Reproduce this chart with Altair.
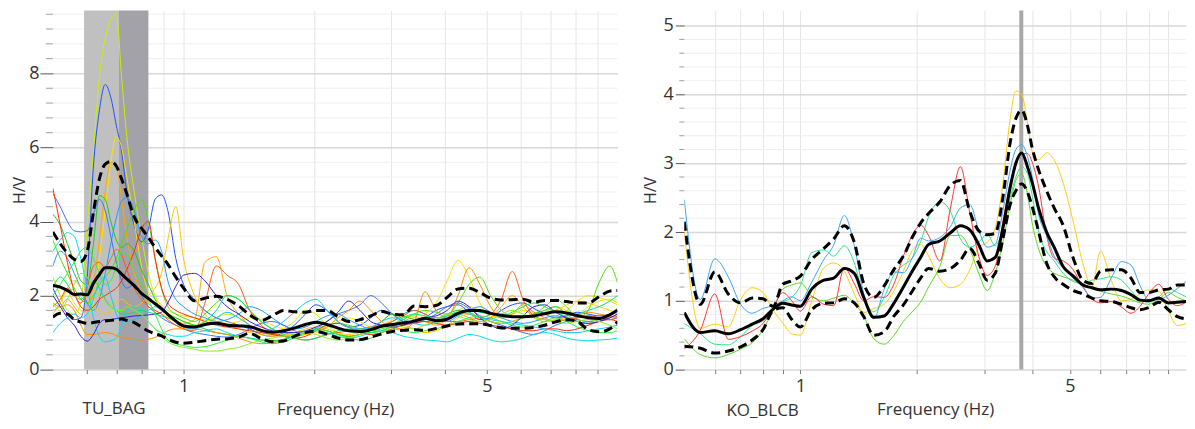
import altair as alt
import pandas as pd

# ---------------- LEFT PANEL (TU_BAG) ----------------
FREQ_L = [0.50, 0.52, 0.54, 0.56, 0.58, 0.60, 0.62, 0.64, 0.66, 0.68, 0.70, 0.72, 0.74, 0.77, 0.80, 0.83, 0.86, 0.89, 0.92, 0.96, 1.00,
          1.06, 1.12, 1.19, 1.26, 1.34, 1.42, 1.51, 1.60, 1.70, 1.80, 1.91, 2.02, 2.14, 2.27, 2.40, 2.55, 2.70, 2.86, 3.03, 3.21,
          3.40, 3.60, 3.82, 4.05, 4.29, 4.55, 4.82, 5.10, 5.40, 5.72, 6.06, 6.42, 6.80, 7.20, 7.63, 8.08, 8.56, 9.07, 9.60, 10.0]

L_MEAN = [2.27, 2.23, 2.14, 2.03, 2.04, 2.02, 2.33, 2.57, 2.75, 2.75, 2.71, 2.58, 2.45, 2.27, 2.06, 1.92, 1.78, 1.65, 1.49, 1.31, 1.18,
          1.15, 1.22, 1.25, 1.20, 1.18, 1.16, 1.06, 1.01, 1.05, 1.12, 1.22, 1.28, 1.22, 1.12, 1.05, 1.03, 1.08, 1.17, 1.22, 1.26,
          1.31, 1.39, 1.32, 1.36, 1.52, 1.60, 1.60, 1.52, 1.47, 1.43, 1.43, 1.45, 1.51, 1.56, 1.53, 1.46, 1.40, 1.38, 1.48, 1.60]
L_UP = [3.72, 3.40, 3.15, 2.98, 2.92, 3.20, 4.25, 5.15, 5.55, 5.62, 5.50, 5.15, 4.75, 4.12, 3.82, 3.57, 3.30, 3.07, 2.85, 2.50, 2.20,
        1.86, 1.93, 1.98, 1.90, 1.72, 1.48, 1.33, 1.45, 1.60, 1.56, 1.55, 1.60, 1.60, 1.43, 1.30, 1.35, 1.45, 1.57, 1.50, 1.48,
        1.72, 1.70, 1.73, 1.95, 2.18, 2.20, 2.08, 1.93, 1.88, 1.89, 1.90, 1.82, 1.87, 1.87, 1.84, 1.80, 1.80, 1.97, 2.12, 2.14]
L_LO = [1.42, 1.52, 1.50, 1.35, 1.29, 1.25, 1.27, 1.30, 1.31, 1.33, 1.35, 1.37, 1.33, 1.27, 1.15, 1.04, 0.97, 0.91, 0.82, 0.74, 0.71,
        0.74, 0.78, 0.82, 0.83, 0.88, 0.98, 0.84, 0.75, 0.77, 0.90, 1.00, 1.03, 0.96, 0.85, 0.80, 0.81, 0.88, 0.96, 1.03, 1.06,
        1.08, 1.06, 1.11, 1.18, 1.23, 1.24, 1.24, 1.19, 1.13, 1.12, 1.12, 1.14, 1.20, 1.29, 1.35, 1.30, 1.08, 1.02, 1.10, 1.29]

L_A = [2.5, 2.0, 1.6, 1.5, 1.8, 3.9, 5.9, 7.9, 8.95, 9.45, 9.6, 7.9, 6.3, 4.8, 3.6, 2.6, 2.0, 1.7, 1.5, 1.4, 1.3,
       1.2, 1.3, 1.4, 1.5, 1.4, 1.2, 1.0, 0.95, 1.1, 1.3, 1.6, 1.5, 1.2, 1.0, 0.9, 0.95, 1.1, 1.3, 1.5, 1.4,
       1.45, 1.3, 1.25, 1.4, 1.6, 1.7, 1.6, 1.5, 1.4, 1.5, 1.6, 1.5, 1.55, 1.7, 1.6, 1.5, 1.7, 1.85, 1.9, 1.8]
L_B = [2.2, 1.8, 1.5, 1.35, 1.4, 2.5, 5.5, 7.0, 7.7, 7.35, 6.6, 5.9, 4.8, 3.9, 3.45, 3.8, 4.6, 4.72, 4.3, 3.0, 2.3,
       1.9, 1.6, 1.4, 1.3, 1.2, 1.1, 0.95, 0.9, 1.0, 1.2, 1.5, 1.75, 1.6, 1.3, 1.15, 1.2, 1.4, 1.6, 1.5, 1.3,
       1.25, 1.4, 1.6, 1.7, 1.75, 1.55, 1.35, 1.4, 1.6, 1.75, 1.8, 1.65, 1.5, 1.4, 1.45, 1.55, 1.5, 1.45, 1.5, 1.6]
L_C = [1.7, 1.9, 2.1, 1.8, 1.6, 1.5, 1.8, 3.0, 4.3, 5.6, 6.3, 6.0, 5.2, 4.0, 2.8, 2.1, 1.9, 1.75, 1.6, 1.5, 1.45,
       1.4, 1.35, 1.3, 1.25, 1.3, 1.4, 1.35, 1.2, 1.1, 1.0, 0.95, 1.0, 1.15, 1.3, 1.4, 1.3, 1.15, 1.2, 1.35, 1.5,
       1.3, 1.5, 1.8, 2.4, 2.95, 2.5, 1.8, 1.45, 1.4, 1.5, 1.6, 1.55, 1.5, 1.45, 1.6, 1.85, 2.0, 1.95, 1.85, 1.75]
L_D = [1.6, 1.7, 1.9, 1.7, 1.5, 1.7, 2.3, 3.5, 4.8, 5.6, 5.5, 4.6, 3.6, 2.6, 2.1, 1.8, 1.6, 1.5, 1.4, 1.3, 1.25,
       1.35, 2.9, 3.05, 2.0, 1.5, 1.2, 1.05, 1.0, 0.95, 0.9, 0.95, 1.1, 1.05, 0.95, 0.9, 0.95, 1.0, 1.05, 1.15, 1.3,
       1.4, 1.3, 1.2, 1.35, 1.5, 1.4, 1.3, 1.4, 1.7, 2.0, 1.7, 1.4, 1.3, 1.35, 1.4, 1.35, 1.3, 1.35, 1.4, 1.45]
L_E = [4.2, 3.9, 3.4, 2.9, 2.4, 2.3, 3.4, 4.7, 4.6, 4.0, 3.5, 3.3, 3.4, 3.2, 2.7, 2.3, 1.9, 1.6, 1.5, 1.4, 1.3,
       1.2, 1.1, 1.0, 0.95, 0.9, 0.85, 0.8, 0.78, 0.82, 0.9, 1.0, 1.1, 1.05, 0.95, 0.9, 0.95, 1.1, 1.3, 1.5, 1.45,
       1.35, 1.3, 1.35, 1.5, 1.6, 1.55, 1.4, 1.3, 1.25, 1.3, 1.4, 1.5, 1.6, 1.7, 1.5, 1.3, 1.25, 1.3, 1.4, 1.5]
L_F = [3.5, 3.0, 2.6, 2.2, 1.9, 1.8, 2.0, 2.3, 2.5, 2.7, 3.0, 3.4, 3.8, 4.3, 4.6, 4.0, 3.0, 2.2, 1.7, 1.5, 1.4,
       1.3, 1.5, 1.8, 2.0, 1.9, 1.6, 1.3, 1.1, 1.0, 0.95, 1.0, 1.1, 1.2, 1.25, 1.2, 1.1, 1.05, 1.1, 1.2, 1.35,
       1.5, 1.6, 1.55, 1.5, 1.8, 2.3, 2.5, 2.0, 1.6, 1.45, 1.4, 1.5, 1.7, 1.9, 1.7, 1.4, 1.6, 2.35, 2.8, 2.35]
L_G = [2.8, 3.2, 3.0, 2.6, 2.2, 1.8, 1.6, 1.9, 2.6, 3.4, 4.1, 4.55, 4.65, 4.3, 3.6, 3.4, 3.5, 3.2, 2.4, 1.9, 1.7,
       1.5, 1.4, 1.3, 1.35, 1.5, 1.7, 1.6, 1.4, 1.2, 1.1, 1.15, 1.3, 1.45, 1.5, 1.35, 1.2, 1.1, 1.15, 1.3, 1.5,
       1.6, 1.5, 1.35, 1.3, 1.45, 1.6, 1.7, 1.55, 1.4, 1.3, 1.25, 1.3, 1.4, 1.45, 1.4, 1.35, 1.3, 1.35, 1.5, 1.65]
L_H = [4.75, 4.4, 4.0, 3.75, 3.72, 3.75, 4.2, 4.6, 4.3, 3.6, 2.9, 2.4, 2.2, 2.3, 2.0, 1.7, 1.55, 1.4, 1.3, 1.2, 1.1,
       1.0, 0.95, 0.9, 0.88, 0.95, 1.1, 1.25, 1.3, 1.2, 1.05, 1.0, 1.1, 1.3, 1.5, 1.6, 1.75, 2.0, 1.8, 1.5, 1.3,
       1.25, 1.35, 1.5, 1.7, 1.8, 1.65, 1.45, 1.3, 1.2, 1.1, 1.0, 0.95, 1.05, 1.2, 1.3, 1.4, 1.45, 1.4, 1.35, 1.4]
L_I = [1.5, 1.8, 2.2, 2.4, 2.2, 1.9, 1.7, 1.6, 1.5, 1.6, 1.8, 1.9, 1.8, 1.7, 1.8, 2.0, 2.2, 2.6, 3.5, 4.4, 3.0,
       2.0, 1.5, 1.3, 1.2, 1.1, 1.0, 0.95, 0.9, 0.92, 1.0, 1.1, 1.15, 1.1, 1.0, 0.95, 1.0, 1.1, 1.2, 1.25, 1.2,
       1.1, 1.0, 1.05, 1.2, 1.4, 1.5, 1.4, 1.3, 1.25, 1.3, 1.4, 1.45, 1.5, 1.6, 1.75, 1.85, 1.8, 1.7, 1.6, 1.5]
L_J = [4.9, 3.9, 2.9, 2.1, 1.7, 1.6, 1.7, 1.9, 2.0, 2.1, 2.2, 2.4, 2.7, 3.2, 3.8, 4.0, 3.0, 2.2, 1.8, 1.6, 1.5,
       1.4, 1.3, 1.2, 1.15, 1.1, 1.05, 1.0, 0.95, 0.9, 0.85, 0.9, 1.05, 1.2, 1.25, 1.15, 1.0, 0.95, 1.0, 1.1, 1.2,
       1.25, 1.3, 1.25, 1.2, 1.25, 1.3, 1.25, 1.2, 1.15, 1.1, 1.05, 1.05, 1.1, 1.1, 1.05, 1.1, 1.2, 1.3, 1.35, 1.3]
L_K = [1.7, 1.9, 2.2, 2.0, 1.8, 2.2, 2.8, 2.9, 2.75, 3.0, 3.25, 3.1, 2.7, 2.2, 1.9, 1.7, 1.6, 1.5, 1.35, 1.2, 1.1,
       1.05, 1.8, 2.8, 2.55, 2.3, 1.6, 1.2, 1.0, 0.9, 0.85, 0.8, 0.85, 0.95, 1.0, 1.05, 1.1, 1.15, 1.2, 1.3, 1.45,
       1.6, 1.5, 1.35, 1.3, 1.3, 1.35, 1.4, 1.5, 1.9, 2.65, 1.9, 1.45, 1.35, 1.3, 1.35, 1.4, 1.45, 1.4, 1.35, 1.45]
L_L = [1.8, 1.7, 1.75, 1.6, 1.2, 0.95, 0.95, 0.98, 1.0, 0.98, 0.92, 0.87, 0.84, 0.82, 0.8, 0.82, 0.87, 0.95, 1.05, 1.1, 1.1,
       1.1, 1.05, 1.0, 0.95, 0.85, 0.75, 0.7, 0.72, 0.8, 0.9, 1.0, 1.05, 1.15, 1.4, 1.6, 1.85, 1.6, 1.3, 1.15, 1.1,
       1.3, 2.1, 1.6, 1.4, 2.0, 2.75, 2.3, 1.7, 1.4, 1.5, 1.75, 1.55, 1.4, 1.3, 1.35, 1.45, 1.55, 1.5, 1.45, 1.4]
L_M = [3.2, 3.5, 3.7, 3.6, 3.0, 2.2, 1.4, 0.9, 0.75, 0.78, 0.85, 1.2, 1.6, 1.7, 1.5, 1.3, 1.1, 1.0, 0.95, 0.9, 0.9,
       1.0, 1.05, 1.1, 1.0, 0.9, 0.85, 0.8, 0.75, 0.8, 0.9, 1.0, 1.05, 1.0, 0.9, 0.85, 0.9, 1.0, 1.05, 1.0, 0.9,
       0.85, 0.8, 0.78, 0.75, 0.85, 0.95, 0.9, 0.8, 0.75, 0.78, 0.85, 0.95, 1.0, 0.95, 0.85, 0.8, 0.78, 0.8, 0.82, 0.85]
L_N = [2.0, 1.7, 1.4, 1.2, 0.9, 0.77, 0.95, 1.25, 1.35, 1.35, 1.38, 1.4, 1.42, 1.45, 1.46, 1.48, 1.5, 1.55, 1.8, 2.25, 2.55,
       2.6, 2.4, 2.0, 1.7, 1.5, 1.3, 1.15, 1.05, 1.0, 1.0, 1.05, 1.15, 1.3, 1.55, 1.85, 1.6, 1.3, 1.2, 1.15, 1.2,
       1.3, 1.4, 1.45, 1.6, 1.85, 1.7, 1.4, 1.2, 1.1, 1.2, 1.45, 1.7, 1.75, 1.55, 1.4, 1.3, 1.25, 1.3, 1.4, 1.5]
L_O = [2.2, 2.5, 2.3, 2.0, 1.9, 2.1, 2.4, 2.2, 1.9, 1.7, 1.6, 1.5, 1.5, 1.55, 1.6, 1.55, 1.5, 1.45, 1.4, 1.3, 1.2,
       1.15, 1.3, 1.6, 2.0, 1.9, 1.6, 1.3, 1.1, 0.95, 0.85, 0.8, 0.85, 0.95, 1.05, 1.1, 1.05, 1.0, 1.05, 1.2, 1.4,
       1.5, 1.45, 1.4, 1.45, 1.55, 1.6, 1.55, 1.5, 1.45, 1.55, 1.7, 1.8, 1.7, 1.55, 1.45, 1.5, 1.6, 1.7, 1.85, 2.0]
L_P = [1.0, 1.25, 1.4, 1.5, 1.4, 1.5, 1.9, 2.4, 2.5, 2.0, 1.5, 1.3, 1.3, 1.35, 1.45, 1.6, 1.7, 1.6, 1.5, 1.3, 1.15,
       1.1, 1.2, 1.4, 1.55, 1.4, 1.2, 1.05, 1.1, 1.3, 1.55, 1.8, 1.9, 1.6, 1.3, 1.15, 1.1, 1.15, 1.3, 1.4, 1.35,
       1.25, 1.2, 1.3, 1.45, 1.55, 1.5, 1.4, 1.35, 1.3, 1.25, 1.2, 1.15, 1.1, 1.05, 1.0, 1.0, 1.05, 1.1, 1.15, 1.2]
L_Q = [1.8, 1.6, 1.9, 2.3, 2.6, 2.5, 2.2, 2.0, 1.8, 1.7, 1.6, 1.6, 1.7, 1.6, 1.5, 1.3, 1.1, 0.9, 0.75, 0.65, 0.6,
       0.55, 0.5, 0.5, 0.55, 0.6, 0.7, 0.8, 0.85, 0.9, 0.95, 1.0, 0.95, 0.85, 0.8, 0.85, 0.95, 1.05, 1.15, 1.2, 1.15,
       1.1, 1.2, 1.35, 1.5, 1.45, 1.35, 1.3, 1.35, 1.5, 1.6, 1.5, 1.4, 1.35, 1.3, 1.25, 1.3, 1.35, 1.3, 1.2, 1.1]
L_R = [2.0, 2.3, 2.6, 2.9, 3.2, 3.3, 3.0, 2.6, 2.3, 2.4, 2.8, 3.2, 3.1, 2.7, 2.3, 1.9, 1.5, 1.1, 0.8, 0.7, 0.65,
       0.6, 0.62, 0.7, 0.8, 0.9, 0.85, 0.75, 0.7, 0.75, 0.85, 1.0, 1.1, 1.05, 0.95, 0.85, 0.8, 0.85, 1.0, 1.1, 1.05,
       1.0, 1.05, 1.1, 1.2, 1.3, 1.4, 1.45, 1.4, 1.3, 1.2, 1.15, 1.2, 1.3, 1.4, 1.3, 1.15, 1.05, 1.0, 1.0, 1.05]

L_NAMES = ["A", "B", "C", "D", "E", "F", "G", "H", "I", "J", "K", "L", "M", "N", "O", "P", "Q", "R"]
L_COLORS = ["#c8f000", "#1f4fff", "#ffe000", "#ffa800", "#1ec81e", "#4ee000", "#1e9bff", "#3a70ff", "#ffc400",
            "#ff2a00", "#ff5a14", "#ff8c00", "#00e0e8", "#3a1fd8", "#00e86a", "#14c8ff", "#8cee22", "#33ee44"]
L_CURVES = [L_A, L_B, L_C, L_D, L_E, L_F, L_G, L_H, L_I, L_J, L_K, L_L, L_M, L_N, L_O, L_P, L_Q, L_R]

L_BAND = [0.59, 0.71, 0.83]          # light band 0.59-0.71, dark band 0.71-0.83
L_YMAJOR = [0, 2, 4, 6, 8]
L_YMINOR = [0.4, 0.8, 1.2, 1.6, 2.4, 2.8, 3.2, 3.6, 4.4, 4.8, 5.2, 5.6, 6.4, 6.8, 7.2, 7.6, 8.4, 8.8, 9.2, 9.6]

# ---------------- RIGHT PANEL (KO_BLCB) ----------------
FREQ_R = [0.50, 0.55, 0.60, 0.65, 0.70, 0.75, 0.80, 0.85, 0.90, 0.95,
          1.00, 1.07, 1.15, 1.22, 1.30, 1.38, 1.46, 1.55, 1.65, 1.75,
          1.85, 1.95, 2.05, 2.15, 2.30, 2.45, 2.60, 2.75, 2.90, 3.05,
          3.20, 3.35, 3.50, 3.62, 3.75, 3.88, 4.00, 4.15, 4.35, 4.55,
          4.80, 5.10, 5.40, 5.70, 6.00, 6.40, 6.80, 7.20, 7.60, 8.00,
          8.50, 9.00, 9.50, 10.0]
R_MEAN = [0.83, 0.54, 0.565, 0.52, 0.58, 0.66, 0.74, 0.88, 0.965, 0.94,
          0.92, 1.17, 1.30, 1.33, 1.47, 1.40, 1.05, 0.76, 0.78, 0.97,
          1.20, 1.43, 1.63, 1.82, 1.87, 1.99, 2.09, 2.03, 1.82, 1.58,
          1.63, 2.05, 2.65, 3.0, 3.15, 2.95, 2.7, 2.34, 2.0, 1.78,
          1.5, 1.36, 1.23, 1.19, 1.16, 1.17, 1.15, 1.09, 1.01, 1.0,
          1.04, 0.97, 0.98, 0.99]
R_UP = [2.15, 0.95, 1.42, 1.10, 0.97, 1.04, 1.03, 0.92, 1.24, 1.29,
        1.36, 1.60, 1.76, 1.90, 2.09, 1.85, 1.25, 1.05, 1.22, 1.46,
        1.65, 1.92, 2.13, 2.27, 2.44, 2.68, 2.75, 2.30, 2.02, 1.96,
        1.98, 2.5, 3.30, 3.65, 3.77, 3.55, 3.2, 2.9, 2.6, 2.35,
        2.1, 1.62, 1.30, 1.25, 1.43, 1.45, 1.45, 1.33, 1.12, 1.12,
        1.16, 1.17, 1.23, 1.23]
R_LO = [0.34, 0.31, 0.24, 0.27, 0.33, 0.43, 0.58, 0.86, 0.90, 0.73,
        0.62, 0.87, 0.965, 0.97, 1.03, 0.97, 0.77, 0.50, 0.55, 0.78,
        0.94, 1.14, 1.33, 1.47, 1.43, 1.47, 1.59, 1.76, 1.55, 1.30,
        1.40, 1.90, 2.40, 2.60, 2.70, 2.58, 2.35, 2.0, 1.55, 1.35,
        1.24, 1.15, 1.10, 1.04, 1.0, 0.99, 0.95, 0.90, 0.87, 0.90,
        0.98, 0.87, 0.77, 0.74]
R_BLUE = [2.47, 1.02, 1.61, 1.35, 0.95, 0.82, 0.89, 0.93, 1.0, 1.06,
          1.0, 1.27, 1.60, 1.81, 2.24, 1.80, 1.10, 0.74, 1.17, 1.42,
          1.41, 1.62, 1.91, 1.87, 1.92, 2.08, 2.35, 2.40, 2.03, 1.78,
          1.82, 2.3, 2.9, 3.2, 3.27, 3.1, 2.78, 2.25, 1.95, 1.65,
          1.48, 1.33, 1.21, 1.04, 1.05, 1.33, 1.57, 1.52, 1.22, 1.02,
          1.02, 1.08, 1.18, 1.28]
R_RED = [0.30, 0.57, 1.10, 0.44, 0.48, 0.56, 0.67, 0.90, 1.12, 1.0,
         0.85, 1.06, 0.95, 0.93, 1.48, 1.25, 1.0, 1.06, 1.05, 1.25,
         1.65, 1.95, 2.10, 1.95, 1.58, 2.35, 2.95, 2.28, 1.65, 1.37,
         1.50, 2.15, 2.70, 3.0, 3.14, 3.14, 3.0, 2.65, 1.95, 1.62,
         1.58, 1.45, 1.20, 1.03, 0.97, 0.99, 0.91, 0.82, 0.92, 1.10,
         1.24, 1.02, 0.93, 0.98]
R_YELLOW = [2.0, 0.60, 0.66, 0.62, 1.02, 1.19, 1.12, 0.86, 0.68, 0.52,
            0.50, 1.00, 1.48, 1.55, 1.43, 1.10, 0.83, 0.89, 0.95, 1.15,
            1.43, 1.73, 1.82, 1.65, 1.32, 1.19, 1.24, 1.45, 1.78, 1.85,
            2.05, 2.7, 3.65, 4.05, 4.0, 3.6, 3.15, 3.05, 3.15, 3.05,
            2.72, 2.15, 1.55, 1.2, 1.72, 1.3, 1.0, 1.02, 1.10, 1.16,
            1.14, 0.85, 0.64, 0.67]
R_MINT = [0.67, 0.52, 0.37, 0.36, 0.48, 0.64, 0.71, 0.86, 0.98, 1.05,
          1.22, 1.70, 1.74, 1.65, 1.80, 1.55, 1.05, 0.84, 1.05, 1.38,
          1.52, 1.62, 1.86, 2.22, 2.44, 2.30, 1.90, 1.78, 1.85, 1.97,
          1.80, 2.05, 2.5, 2.8, 2.95, 2.85, 2.5, 2.0, 1.72, 1.58,
          1.40, 1.28, 1.25, 1.30, 1.32, 1.35, 1.30, 1.15, 1.02, 0.98,
          1.05, 1.18, 1.12, 1.06]
R_LIME = [0.45, 0.22, 0.17, 0.22, 0.30, 0.39, 0.58, 0.87, 1.17, 1.23,
          1.26, 1.07, 1.0, 1.04, 1.08, 0.96, 0.78, 0.45, 0.37, 0.50,
          0.70, 0.84, 0.98, 1.20, 1.50, 1.95, 1.95, 1.75, 1.40, 1.15,
          1.40, 1.85, 2.40, 2.75, 2.85, 2.55, 2.10, 1.75, 1.50, 1.40,
          1.35, 1.30, 1.24, 1.18, 1.14, 1.10, 1.07, 1.02, 0.97, 0.95,
          1.02, 1.12, 1.05, 1.00]

R_NAMES = ["yellow", "lime", "mint", "red", "blue"]
R_COLORS = ["#ffcc11", "#5ada22", "#2fe58a", "#ff3333", "#3aa6f2"]
R_CURVES = [R_YELLOW, R_LIME, R_MINT, R_RED, R_BLUE]

R_PEAK = [3.74]
R_YMAJOR = [0, 1, 2, 3, 4, 5]
R_YMINOR = [0.2, 0.4, 0.6, 0.8, 1.2, 1.4, 1.6, 1.8, 2.2, 2.4, 2.6, 2.8, 3.2, 3.4, 3.6, 3.8, 4.2, 4.4, 4.6, 4.8]

XTICKS = [0.6, 0.7, 0.8, 0.9, 1, 2, 3, 4, 5, 6, 7, 8, 9]

FONT = "Open Sans"
TXT = "#333333"


def build_panel(freqs, names, colors, curves, mean, up, lo, ymax, ymajor, yminor,
                major_tick, minor_tick, label_pad, title_pad, width, height,
                station, station_f, station_y, band=None, peak=None):
    for c in curves + [mean, up, lo]:
        assert len(c) == len(freqs), (station, len(c), len(freqs))
    xs = alt.Scale(type="log", domain=[0.5, 10], nice=False)
    ys = alt.Scale(domain=[0, ymax], nice=False, zero=False)
    xaxis = alt.Axis(values=XTICKS, grid=True, gridColor="#e6e6e6", gridWidth=1,
                     domain=False, ticks=True, tickSize=4, tickColor="#808080",
                     labelExpr="(datum.value == 1 || datum.value == 5) ? '' + datum.value : ''",
                     labelFont=FONT, labelFontSize=18, labelColor=TXT, labelPadding=4,
                     labelFlush=False, labelOverlap=False,
                     title="Frequency (Hz)", titleFont=FONT, titleFontSize=17,
                     titleFontWeight="normal", titleColor=TXT, titlePadding=6)
    yaxis = alt.Axis(values=ymajor, grid=True, gridColor="#d8d8d8", gridWidth=1.5,
                     domain=False, tickSize=major_tick, tickColor="#555555",
                     labelFont=FONT, labelFontSize=18, labelColor=TXT, labelPadding=label_pad,
                     labelFlush=False, labelOverlap=False,
                     title="H/V", titleFont=FONT, titleFontSize=16, titleFontWeight="normal",
                     titleColor=TXT, titlePadding=title_pad)
    X = alt.X("f:Q", scale=xs, axis=xaxis)
    Y = alt.Y("v:Q", scale=ys, axis=yaxis)

    layers = []
    minor_df = pd.DataFrame({"v": yminor})
    layers.append(alt.Chart(minor_df).mark_rule(color="#efefef", strokeWidth=1)
                  .encode(y=Y, x=alt.value(0), x2=alt.value(width)))
    if band is not None:
        shades = ["#c0c0c0", "#a2a2a8"]
        for i in range(2):
            bdf = pd.DataFrame({"f": [band[i]], "f2": [band[i + 1]]})
            layers.append(alt.Chart(bdf).mark_rect(color=shades[i], opacity=1)
                          .encode(x=X, x2="f2:Q", y=alt.value(0), y2=alt.value(height)))
    if peak is not None:
        pdf = pd.DataFrame({"f": peak})
        layers.append(alt.Chart(pdf).mark_rule(color="#a8a8a8", strokeWidth=4).encode(x=X))
    layers.append(alt.Chart(minor_df).mark_rule(color="#a0a0a0", strokeWidth=1)
                  .encode(y=Y, x=alt.value(-minor_tick), x2=alt.value(0)))

    rows = []
    for n, vals in zip(names, curves):
        for f, v in zip(freqs, vals):
            rows.append({"f": f, "v": v, "c": n})
    cdf = pd.DataFrame(rows)
    layers.append(alt.Chart(cdf).mark_line(strokeWidth=1, interpolate="monotone", clip=True)
                  .encode(x=X, y=Y,
                          color=alt.Color("c:N", scale=alt.Scale(domain=names, range=colors), legend=None)))

    sdf = pd.DataFrame({"f": freqs + freqs, "v": up + lo,
                        "s": ["up"] * len(freqs) + ["lo"] * len(freqs)})
    layers.append(alt.Chart(sdf).mark_line(color="black", strokeWidth=3, strokeDash=[9, 5],
                                           interpolate="monotone", clip=True)
                  .encode(x=X, y=Y, detail="s:N"))
    mdf = pd.DataFrame({"f": freqs, "v": mean})
    layers.append(alt.Chart(mdf).mark_line(color="black", strokeWidth=3,
                                           interpolate="monotone", clip=True)
                  .encode(x=X, y=Y))

    tdf = pd.DataFrame({"f": [station_f], "t": [station]})
    layers.append(alt.Chart(tdf).mark_text(font=FONT, fontSize=17, color=TXT,
                                           baseline="alphabetic", align="center")
                  .encode(x=X, y=alt.value(station_y), text="t:N"))
    return alt.layer(*layers).properties(width=width, height=height)


left = build_panel(FREQ_L, L_NAMES, L_COLORS, L_CURVES, L_MEAN, L_UP, L_LO, 9.7,
                   L_YMAJOR, L_YMINOR, 13, 7, 1, 1, 566, 360,
                   "TU_BAG", 0.692, 405, band=L_BAND)
right = build_panel(FREQ_R, R_NAMES, R_COLORS, R_CURVES, R_MEAN, R_UP, R_LO, 5.22,
                    R_YMAJOR, R_YMINOR, 9, 5, 2, 5, 503, 360,
                    "KO_BLCB", 0.798, 407, peak=R_PEAK)

chart = (alt.hconcat(left, right, spacing=23)
         .resolve_scale(color="independent")
         .properties(padding={"left": 3, "top": 0, "right": 0, "bottom": 4}, background="white")
         .configure_view(stroke=None))

chart.save("out.html", embed_options={"renderer": "svg", "actions": False})
